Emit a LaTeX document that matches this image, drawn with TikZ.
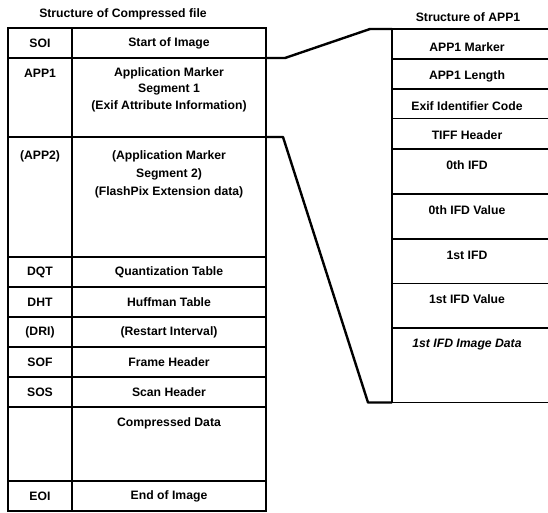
\documentclass[tikz,border=0pt]{standalone}
\usepackage{fontspec}
\setmainfont{Liberation Sans}
\begin{document}
\begin{tikzpicture}[x=1pt,y=-1pt,
  row/.style={draw, line width=1.5pt, inner sep=0pt, outer sep=0pt, anchor=north west, minimum width=258pt},
  rcell/.style={inner sep=0pt, outer sep=0pt, anchor=north west, minimum width=156pt},
  txt/.style={font=\fontsize{12.2}{16.5}\selectfont\bfseries, align=center, inner sep=0pt},
  ttl/.style={font=\fontsize{12.2}{15}\selectfont\bfseries, inner sep=0pt},
  rline/.style={line width=1.5pt},
  conn/.style={line width=2.4pt, line join=round}]
\useasboundingbox (0,0) rectangle (548,512);

% titles
\node[ttl] (t1) at (123,14) {Structure of Compressed file};
\node[ttl] (t2) at (468,17) {Structure of APP1};

% left table rows
\node[row, minimum height=30pt]  (soi)   at (8,28) {};
\node[row, minimum height=79pt]  (app1)  at (soi.south west) {};
\node[row, minimum height=120pt] (app2)  at (app1.south west) {};
\node[row, minimum height=30pt]  (dqt)   at (app2.south west) {};
\node[row, minimum height=30pt]  (dht)   at (dqt.south west) {};
\node[row, minimum height=30pt]  (dri)   at (dht.south west) {};
\node[row, minimum height=30pt]  (sof)   at (dri.south west) {};
\node[row, minimum height=30pt]  (sos)   at (sof.south west) {};
\node[row, minimum height=74pt]  (cdata) at (sos.south west) {};
\node[row, minimum height=30pt]  (eoi)   at (cdata.south west) {};
\draw[rline] ([xshift=64pt]soi.north west) -- ([xshift=64pt]eoi.south west);

% left table texts
\node[txt] (lsoi)  at (40,43)  {SOI};
\node[txt] (tsoi)  at (169,43) {Start of Image};
\node[txt] (lapp1) at (40,73)  {APP1};
\node[txt] (tapp1) at (169,89.5) {Application Marker\\Segment 1\\(Exif Attribute Information)};
\node[txt] (lapp2) at (40,156) {(APP2)};
\node[txt, font=\fontsize{12.2}{18}\selectfont\bfseries] (tapp2) at (169,174) {(Application Marker\\Segment 2)\\(FlashPix Extension data)};
\node[txt] (ldqt)  at (40,272)  {DQT};
\node[txt] (tdqt)  at (169,272) {Quantization Table};
\node[txt] (ldht)  at (40,302)  {DHT};
\node[txt] (tdht)  at (169,302) {Huffman Table};
\node[txt] (ldri)  at (40,332)  {(DRI)};
\node[txt] (tdri)  at (169,332) {(Restart Interval)};
\node[txt] (lsof)  at (40,362)  {SOF};
\node[txt] (tsof)  at (169,362) {Frame Header};
\node[txt] (lsos)  at (40,392)  {SOS};
\node[txt] (tsos)  at (169,392) {Scan Header};
\node[txt] (tcd)   at (169,423) {Compressed Data};
\node[txt] (leoi)  at (40,496)  {EOI};
\node[txt] (teoi)  at (169,496) {End of Image};

% right table cells
\node[rcell, minimum height=30pt]   (r1) at (392,29) {};
\node[rcell, minimum height=30pt]   (r2) at (r1.south west) {};
\node[rcell, minimum height=29.5pt] (r3) at (r2.south west) {};
\node[rcell, minimum height=30.5pt] (r4) at (r3.south west) {};
\node[rcell, minimum height=45pt]   (r5) at (r4.south west) {};
\node[rcell, minimum height=45pt]   (r6) at (r5.south west) {};
\node[rcell, minimum height=44.5pt] (r7) at (r6.south west) {};
\node[rcell, minimum height=44.5pt] (r8) at (r7.south west) {};
\node[rcell, minimum height=74.5pt] (r9) at (r8.south west) {};
\draw[rline] (r1.north west) -- (r9.south west);
\draw[rline] (r1.north west) -- (r1.north east);
\foreach \r in {r1,r2,r3,r4,r5,r6,r7,r8,r9}
  \draw[rline] (\r.south west) -- (\r.south east);

% right table texts
\node[txt] (x1) at (467,47)  {APP1 Marker};
\node[txt] (x2) at (467,76)  {APP1 Length};
\node[txt] (x3) at (467,106) {Exif Identifier Code};
\node[txt] (x4) at (467,135) {TIFF Header};
\node[txt] (x5) at (467,165) {0th IFD};
\node[txt] (x6) at (467,210) {0th IFD Value};
\node[txt] (x7) at (467,255) {1st IFD};
\node[txt] (x8) at (467,299) {1st IFD Value};
\node[txt, font=\fontsize{12.2}{15}\selectfont\bfseries\itshape] (x9) at (467,345) {1st IFD Image Data};

% connectors
\coordinate (c1) at (285,58);
\coordinate (c2) at (370,29);
\coordinate (c3) at (283,137);
\coordinate (c4) at (368,402.5);
\draw[conn] (app1.north east) -- (c1) -- (c2) -- (r1.north west);
\draw[conn] (app1.south east) -- (c3) -- (c4) -- (r9.south west);
\end{tikzpicture}
\end{document}
